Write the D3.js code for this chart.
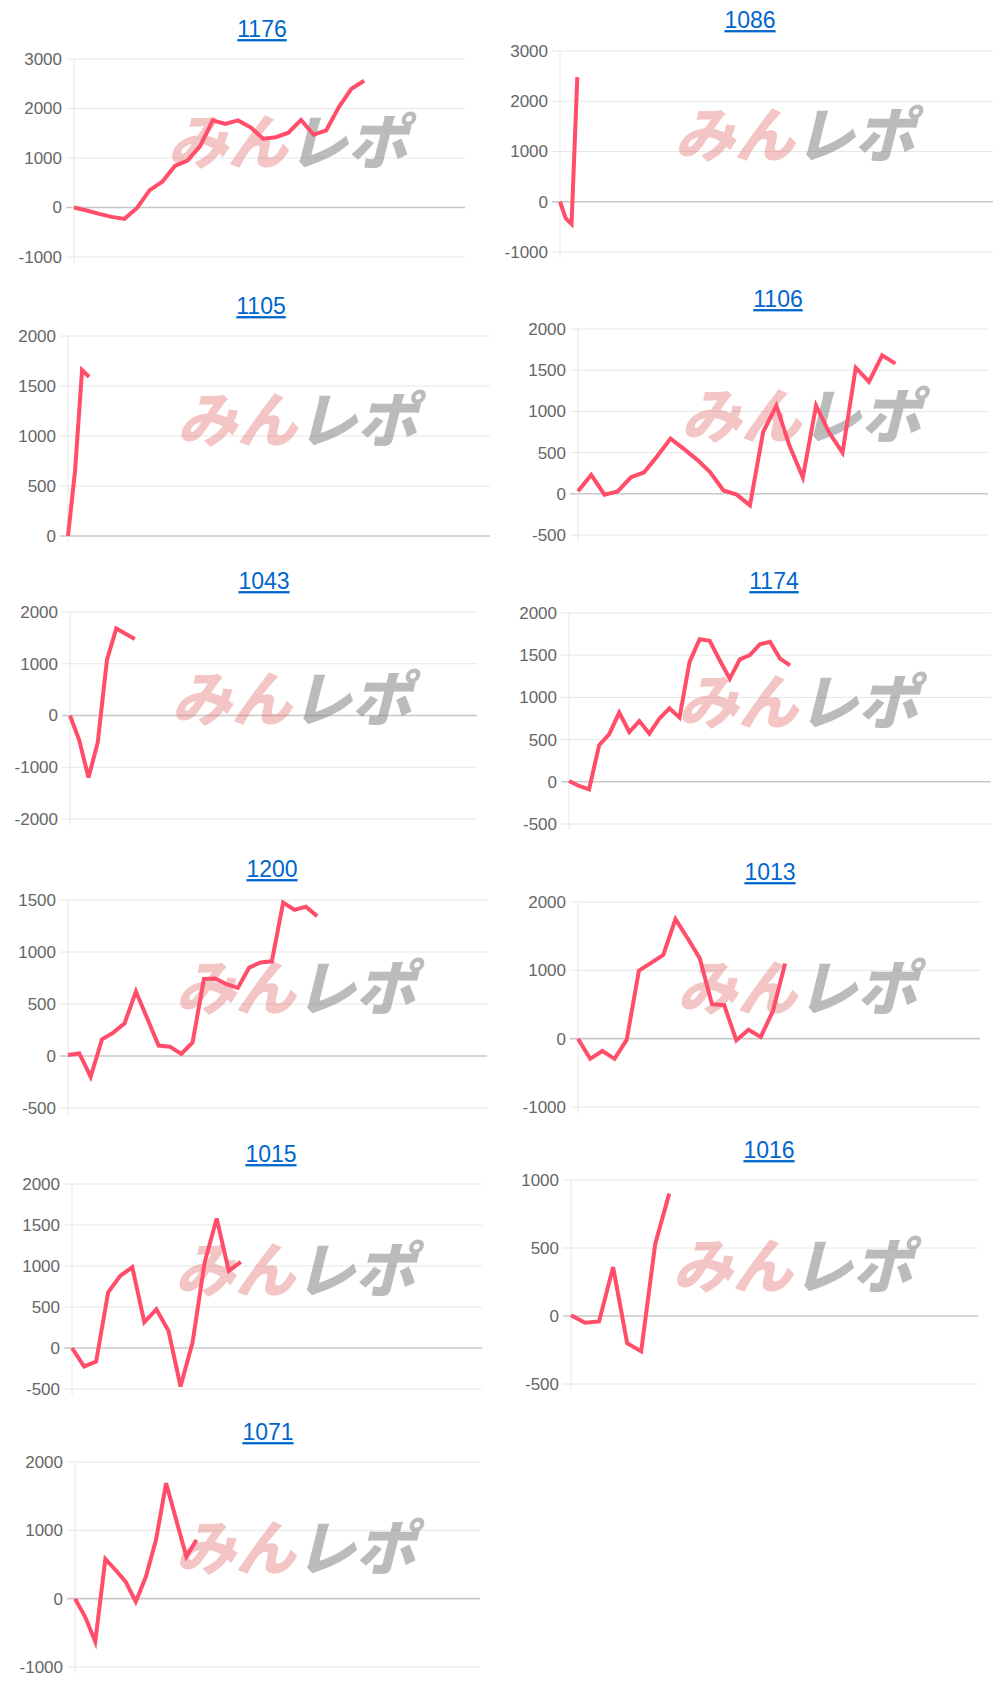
<!DOCTYPE html>
<html><head><meta charset="utf-8">
<script src="https://cdn.jsdelivr.net/npm/d3@7"></script>
<style>body{margin:0;background:#fff}svg{display:block}</style>
</head><body>
<svg id="c" width="1000" height="1695"></svg>
<script>
// ---- data ----
const titles = ["1176","1086","1105","1106","1043","1174","1200","1013","1015","1016","1071"];
const v1176 = [0,-60,-130,-190,-230,-10,350,520,840,950,1240,1760,1690,1760,1620,1390,1420,1510,1770,1470,1560,2030,2400,2560];
const v1086 = [0,-330,-440,2480];
const v1105 = [0,650,1660,1590];
const v1106 = [30,230,-10,30,200,260,460,670,545,415,260,40,-10,-140,750,1070,580,200,1070,740,500,1530,1360,1680,1580];
const v1043 = [0,-480,-1200,-520,1080,1680,1580,1480];
const v1174 = [10,-50,-90,435,565,820,590,720,570,750,870,760,1420,1690,1670,1440,1220,1450,1500,1630,1660,1460,1380];
const v1200 = [10,25,-200,160,225,315,620,360,100,90,20,130,740,745,690,655,850,900,910,1475,1405,1435,1345];
const v1013 = [0,-295,-180,-295,-15,995,1110,1225,1750,1470,1175,505,490,-25,130,25,405,1100];
const v1015 = [0,-225,-165,680,880,985,315,470,210,-470,70,1045,1580,940,1050];
const v1016 = [5,-50,-40,360,-200,-260,530,900];
const v1071 = [0,-265,-630,580,420,250,-45,320,860,1690,1150,615,860];
const ticks1176 = [-1000,0,1000,2000,3000];
const ticks1086 = [-1000,0,1000,2000,3000];
const ticks1105 = [0,500,1000,1500,2000];
const ticks1106 = [-500,0,500,1000,1500,2000];
const ticks1043 = [-2000,-1000,0,1000,2000];
const ticks1174 = [-500,0,500,1000,1500,2000];
const ticks1200 = [-500,0,500,1000,1500];
const ticks1013 = [-1000,0,1000,2000];
const ticks1015 = [-500,0,500,1000,1500,2000];
const ticks1016 = [-500,0,500,1000];
const ticks1071 = [-1000,0,1000,2000];
const slots = [31,75,60,31,44,42,37,33,34,29,40];
const series = [v1176,v1086,v1105,v1106,v1043,v1174,v1200,v1013,v1015,v1016,v1071];
const tickSets = [ticks1176,ticks1086,ticks1105,ticks1106,ticks1043,ticks1174,ticks1200,ticks1013,ticks1015,ticks1016,ticks1071];

// ---- layout (px): left, right, top, bottom, titleX, titleY ----
const layout = [
 [74,465,59,257,262,31],
 [560,993,51,252,750,22],
 [68,490,336,536,261,308],
 [578,988,329,535,778,301],
 [70,477,612,819,264,583],
 [569,991,613,824,774,583],
 [68,487,900,1108,272,871],
 [578,980,902,1107,770,874],
 [72,482,1184,1389,271,1156],
 [571,978,1180,1384,769,1152],
 [75,480,1462,1667,268,1434]
];

const svg = d3.select("#c");
const font = "'Liberation Sans', Arial, sans-serif";

series.forEach((vals,k)=>{
  const [L,R,T,B,tx,ty] = layout[k];
  const ticks = tickSets[k];
  const g = svg.append("g");
  const x = d3.scaleLinear().domain([0,slots[k]]).range([L,R]);
  const y = d3.scaleLinear().domain(d3.extent(ticks)).range([B,T]);

  g.selectAll("line.grid").data(ticks).join("line")
    .attr("x1",L-8).attr("x2",R).attr("y1",d=>y(d)).attr("y2",d=>y(d))
    .attr("stroke",d=>d===0?"#c8c8c8":"#e6e6e6").attr("stroke-width",d=>d===0?1.6:1);
  g.append("line").attr("x1",L).attr("x2",L).attr("y1",T).attr("y2",B+6)
    .attr("stroke","#e6e6e6");
  const ax = d3.axisLeft(y).tickValues(ticks).tickSize(0).tickPadding(12).tickFormat(d=>String(d));
  const axg = g.append("g").attr("transform",`translate(${L},0)`).call(ax);
  axg.select(".domain").remove();
  axg.selectAll("text").attr("fill","#666").style("font-family",font).style("font-size","17px");

  const cx = (L+R)/2 + 18, cy = T + (B-T)*0.45;
  const wm = g.append("text").attr("x",cx).attr("y",cy).attr("text-anchor","middle")
    .attr("dominant-baseline","middle")
    .style("font-family","'Noto Sans CJK JP', sans-serif").style("font-weight","900")
    .style("font-style","italic").style("font-size","60px").attr("textLength",240);
  wm.append("tspan").attr("fill","rgba(225,110,110,0.4)").text("みん");
  wm.append("tspan").attr("fill","rgba(120,120,120,0.5)").text("レポ");

  const line = d3.line().x((d,i)=>x(i)).y(d=>y(d));
  g.append("path").datum(vals).attr("d",line).attr("fill","none")
    .attr("stroke","#ff4d6a").attr("stroke-width",4).attr("stroke-linejoin","miter");

  g.append("text").attr("x",tx).attr("y",ty).attr("text-anchor","middle")
    .attr("dominant-baseline","middle").attr("fill","#0066cc")
    .style("font-family",font).style("font-size","23px")
    .style("text-decoration","underline").text(titles[k]);
});
</script>
</body></html>
